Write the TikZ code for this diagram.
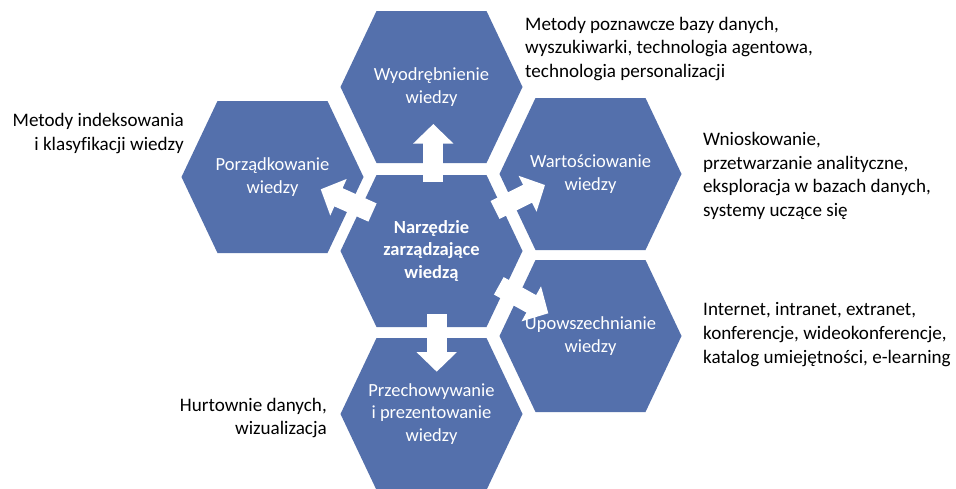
\documentclass[tikz,border=0pt]{standalone}
\usepackage{fontspec}
\setmainfont{Carlito}[Ligatures=NoCommon]
\usetikzlibrary{calc,arrows.meta}
\definecolor{hexblue}{RGB}{84,112,172}
% flat-topped hexagonal cell centred on a named coordinate
\newcommand\hexcell[1]{\fill[hexblue, shift={(#1)}] (-91,0) -- (-55,-76) -- (55,-76) -- (91,0) -- (55,76) -- (-55,76) -- cycle;}
\begin{document}
\begin{tikzpicture}[x=1pt,y=-1pt,
  hexlabel/.style={text=white, font=\fontsize{18.5}{22.5}\selectfont, align=center, inner sep=0pt},
  corelabel/.style={text=white, font=\fontsize{18.5}{22.5}\selectfont\bfseries, align=center, inner sep=0pt},
  note/.style={text=black, font=\fontsize{19.1}{23.6}\selectfont, inner sep=0pt},
  blockarrow/.style={draw=white, line width=20pt, -{Triangle[width=39pt,length=19.5pt]}}]
\useasboundingbox (0,0) rectangle (956,488);
\fill[white] (0,0) rectangle (956,488);

% cell centres
\coordinate (pc) at (431.5,251);
\coordinate (pw) at (431.5,87);
\coordinate (pp) at (272.5,177);
\coordinate (pv) at (590.5,174);
\coordinate (pu) at (590.5,336);
\coordinate (ps) at (431.5,414);

\hexcell{pc}
\hexcell{pw}
\hexcell{pp}
\hexcell{pv}
\hexcell{pu}
\hexcell{ps}

% tails and tips of the block arrows
\coordinate (aw0) at (433.3,181.7);  \coordinate (aw1) at (433.3,124);
\coordinate (as0) at (436.7,314);    \coordinate (as1) at (436.7,371.7);
\coordinate (ap0) at (372.5,212.5);  \coordinate (ap1) at (320.7,189.3);
\coordinate (av0) at (495,210);      \coordinate (av1) at (545,185);
\coordinate (au0) at (498.8,285.8);  \coordinate (au1) at (548.3,313.3);

\draw[blockarrow] (aw0) -- (aw1);
\draw[blockarrow] (as0) -- (as1);
\draw[blockarrow] (ap0) -- (ap1);
\draw[blockarrow] (av0) -- (av1);
\draw[blockarrow] (au0) -- (au1);

% cell labels
\node[corelabel] (core) at (pc) {Narzędzie\\zarządzające\\wiedzą};
\node[hexlabel] (wyod) at (pw) {Wyodrębnienie\\wiedzy};
\node[hexlabel] (porz) at (pp) {Porządkowanie\\wiedzy};
\node[hexlabel] (wart) at (pv) {Wartościowanie\\wiedzy};
\node[hexlabel] (upow) at (pu) {Upowszechnianie\\wiedzy};
\node[hexlabel] (prze) at (ps) {Przechowywanie\\i prezentowanie\\wiedzy};

% side notes
\node[note, anchor=west, align=left] (nw) at (525,49) {Metody poznawcze bazy danych,\\wyszukiwarki, technologia agentowa,\\technologia personalizacji};
\node[note, anchor=east, align=right] (np) at (184,133.5) {Metody indeksowania\\i klasyfikacji wiedzy};
\node[note, anchor=west, align=left] (nv) at (703,176) {Wnioskowanie,\\przetwarzanie analityczne,\\eksploracja w bazach danych,\\systemy uczące się};
\node[note, anchor=west, align=left] (nu) at (703,334.5) {Internet, intranet, extranet,\\konferencje, wideokonferencje,\\katalog umiejętności, e-learning};
\node[note, anchor=east, align=right] (ns) at (327,418) {Hurtownie danych,\\wizualizacja};
\end{tikzpicture}
\end{document}
